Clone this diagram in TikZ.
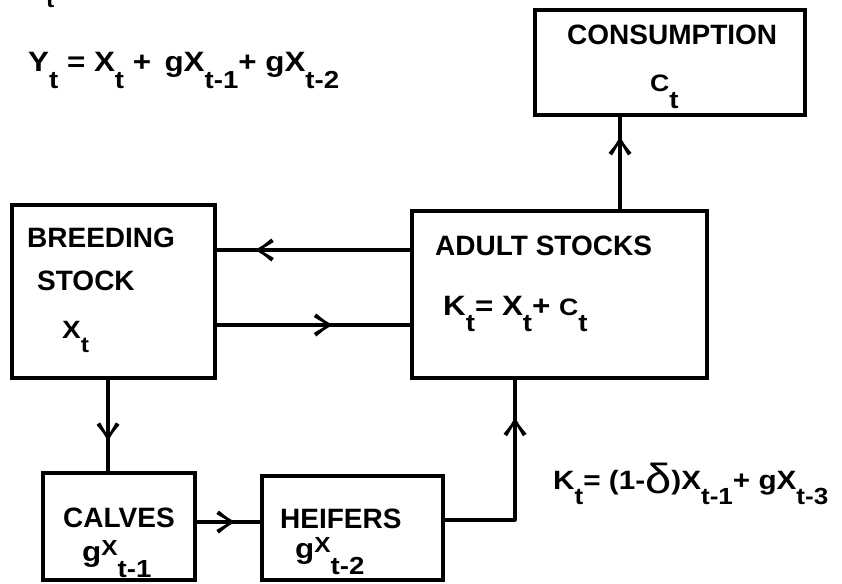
\documentclass[tikz,border=0pt]{standalone}
\usepackage{fontspec}
\setmainfont{Liberation Sans}
\newfontfamily\wideface[FakeStretch=1.12]{Liberation Sans}
\usetikzlibrary{decorations.markings}

% lowered subscript in the style of the labels
\newcommand\lowsub[1]{\raisebox{-0.58em}{\scalebox{0.88}{#1}}}
% small raised X used in the calves/heifers labels
\newcommand\smallX{\raisebox{0.18em}{\scalebox{0.78}{X}}}
% small capital C used for consumption
\newcommand\smallC{\scalebox{0.85}{C}}

\tikzset{
  box/.style={draw, line width=3.2pt, rectangle, inner sep=0pt, outer sep=0pt},
  flow/.style={line width=3.2pt},
  % solid chevron head placed part way along a flow line
  midarrow/.style={postaction={decorate, decoration={markings,
      mark=at position #1 with {
        \fill (4pt,0pt) .. controls (-4pt,4pt) .. (-13pt,11.5pt)
          -- (-15.5pt,8pt) .. controls (-9pt,3.5pt) .. (-2pt,0pt)
          .. controls (-9pt,-3.5pt) .. (-15.5pt,-8pt)
          -- (-13pt,-11.5pt) .. controls (-4pt,-4pt) .. (4pt,0pt) -- cycle;}}}},
  lbl/.style={anchor=base west, inner sep=0pt, font=\bfseries\fontsize{28}{30}\selectfont},
  formula/.style={anchor=base west, inner sep=0pt, font=\wideface\bfseries\fontsize{28}{30}\selectfont},
}

\begin{document}
\begin{tikzpicture}[x=1pt, y=-1pt]
  \useasboundingbox (0,0) rectangle (842,583);
  \clip (0,0) rectangle (842,583);

  % tail of a subscript from the line above
  \node[formula, font=\wideface\bfseries\fontsize{22}{24}\selectfont] (topt) at (46,8) {t};

  % output equation
  \node[formula] (yeq) at (28,72)
    {Y\lowsub{t} = X\lowsub{t} + \,gX\lowsub{t-1}+ gX\lowsub{t-2}};

  % boxes
  \node[box, minimum width=270pt, minimum height=105pt] (cons)   at (670,62.5)  {};
  \node[box, minimum width=203pt, minimum height=173pt] (breed)  at (113.5,291.5) {};
  \node[box, minimum width=295pt, minimum height=167pt] (adult)  at (559.5,294.5) {};
  \node[box, minimum width=152pt, minimum height=107pt] (calves) at (119,526.5) {};
  \node[box, minimum width=181pt, minimum height=104pt] (heif)   at (352.5,528) {};

  % box labels
  \node[lbl] (consT) at (567,45) {CONSUMPTION};
  \node[formula] (consC) at (650,92) {\smallC\lowsub{t}};

  \node[lbl] (breedA) at (27,247) {BREEDING};
  \node[lbl] (breedB) at (37,290) {STOCK};
  \node[formula, font=\wideface\bfseries\fontsize{25}{27}\selectfont] (breedX) at (62,338) {X\lowsub{t}};

  \node[lbl] (adultA) at (435,255) {ADULT STOCKS};
  \node[formula] (adultK) at (443,315)
    {K\lowsub{t}= X\lowsub{t}+ \smallC\lowsub{t}};

  \node[lbl] (calvA) at (63,527) {CALVES};
  \node[formula] (calvB) at (82,561) {g\smallX\lowsub{t-1}};

  \node[lbl] (heifA) at (280,528) {HEIFERS};
  \node[formula] (heifB) at (295,558) {g\smallX\lowsub{t-2}};

  \node[formula, font=\wideface\bfseries\fontsize{26.5}{28}\selectfont] (keq) at (553,489)
    {K\lowsub{t}= (1-\raisebox{-0.18em}{\mdseries\fontsize{42}{42}\selectfont δ})X\lowsub{t-1}+ gX\lowsub{t-3}};

  % flows
  \draw[flow, midarrow=0.74] (adult.north -| 620,0) -- (cons.south -| 620,0);
  \draw[flow, midarrow=0.78] (adult.west |- 0,250) -- (breed.east |- 0,250);
  \draw[flow, midarrow=0.58] (breed.east |- 0,325) -- (adult.west |- 0,325);
  \draw[flow, midarrow=0.63] (breed.south -| 108,0) -- (calves.north -| 108,0);
  \draw[flow, midarrow=0.55] (calves.east |- 0,522) -- (heif.west |- 0,522);
  \draw[flow, line join=round, midarrow=0.80] (heif.east |- 0,520) -| (adult.south -| 515,0);
\end{tikzpicture}
\end{document}
